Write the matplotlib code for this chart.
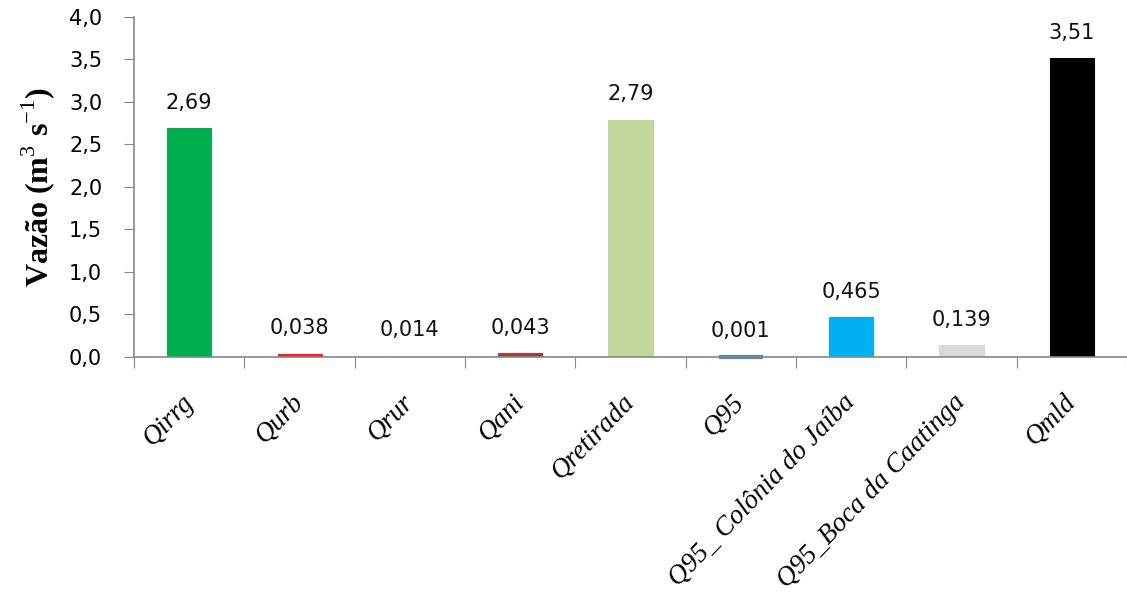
import numpy as np
import matplotlib
matplotlib.use("Agg")
import matplotlib.pyplot as plt

plt.rcParams['font.family'] = ['Liberation Serif', 'DejaVu Serif']
plt.rcParams['mathtext.fontset'] = 'custom'
plt.rcParams['mathtext.rm'] = 'Liberation Serif'
plt.rcParams['mathtext.bf'] = 'Liberation Serif:bold'

categorias = ['Qirrg', 'Qurb', 'Qrur', 'Qani', 'Qretirada', 'Q95',
              'Q95_ Colônia do Jaíba', 'Q95_Boca da Caatinga', 'Qmld']
vazoes = [2.69, 0.038, 0.014, 0.043, 2.79, 0.001, 0.465, 0.139, 3.51]
cores = ['#00B050', '#FF2020', '#FAFAFA', '#A0403E', '#C3D69B', '#4F81BD',
         '#00B0F0', '#D9D9D9', '#000000']
yticks = [0.0, 0.5, 1.0, 1.5, 2.0, 2.5, 3.0, 3.5, 4.0]

fig = plt.figure(figsize=(11.27, 5.98), dpi=100)
ax = fig.add_axes([0.119, 0.403, 0.881, 0.569])

x = np.arange(len(categorias))
barras = ax.bar(x, vazoes, width=0.4, color=cores, edgecolor=cores, linewidth=0.8, zorder=2)
# Q95 quase nula: contorno grosso para aparecer como um traço sob o eixo
barras[5].set_linewidth(3)
barras[5].set_zorder(1)
barras[5].set_clip_on(False)

for xi, v in zip(x, vazoes):
    ax.annotate(str(v).replace('.', ','), (xi, v), xytext=(0, 14),
                textcoords='offset points', ha='center', va='baseline',
                fontsize=15, family='DejaVu Sans', color='#111111')

ax.set_xlim(-0.5, len(categorias) - 0.5)
ax.set_ylim(0, 4.0)
ax.set_yticks(yticks)
ax.set_yticklabels([f'{t:.1f}'.replace('.', ',') for t in yticks],
                   fontsize=15, family='DejaVu Sans')

# marcas entre as categorias, rótulos sob cada barra
ax.set_xticks(np.arange(-0.5, len(categorias)), labels=[])
ax.set_xticks(x, minor=True)
ax.set_xticklabels(categorias, minor=True, rotation=46, ha='right', va='center',
                   rotation_mode='anchor', fontsize=19.5, style='italic')
ax.tick_params(axis='x', which='minor', length=0, pad=30)
ax.tick_params(axis='x', which='major', length=8, color='#868686', direction='out')
ax.tick_params(axis='y', length=7, color='#868686', direction='out', pad=16)

for s in ['top', 'right']:
    ax.spines[s].set_visible(False)
for s in ['left', 'bottom']:
    ax.spines[s].set_color('#868686')
    ax.spines[s].set_linewidth(1.2)
    ax.spines[s].set_zorder(3)

ax.set_ylabel(r'Vazão (m$^{\mathrm{3}}$ s$^{\mathrm{-1}}$)', fontsize=23,
              fontweight='bold', labelpad=9)

fig.savefig('out.png', dpi=100)
